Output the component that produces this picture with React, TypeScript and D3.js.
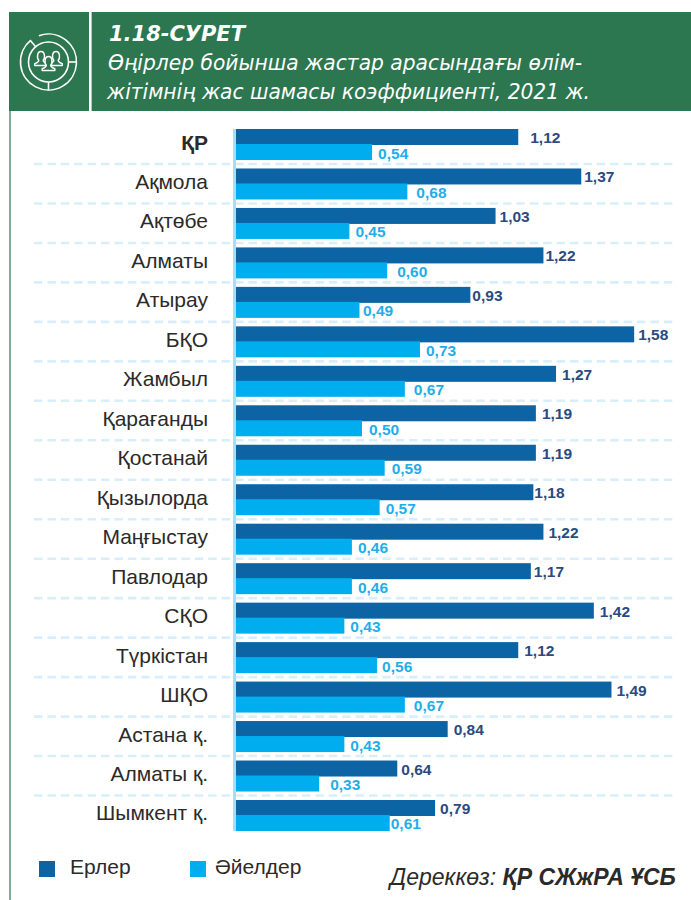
import React from "react";
import * as d3 from "d3";

const regions = ["ҚР","Ақмола","Ақтөбе","Алматы","Атырау","БҚО","Жамбыл","Қарағанды","Қостанай","Қызылорда","Маңғыстау","Павлодар","СҚО","Түркістан","ШҚО","Астана қ.","Алматы қ.","Шымкент қ."];
const men = [1.12,1.37,1.03,1.22,0.93,1.58,1.27,1.19,1.19,1.18,1.22,1.17,1.42,1.12,1.49,0.84,0.64,0.79];
const women = [0.54,0.68,0.45,0.60,0.49,0.73,0.67,0.50,0.59,0.57,0.46,0.46,0.43,0.56,0.67,0.43,0.33,0.61];
const seriesNames = ["Ерлер","Әйелдер"];
const titleLines = ["1.18-СУРЕТ","Өңірлер бойынша жастар арасындағы өлім-","жітімнің жас шамасы коэффициенті, 2021 ж."];

// layout only: gap between bar end and its label, as set in the reference
const menLabelGap = [12,3,4,2,2,4,6,6,6,1,5,3,6,6,5,6,4,5];
const womenLabelGap = [6,9,6,10,3.5,6,9,7,7,6,6,6,6,5,9,6,11,1];

const GREEN = "#2C7650", DARK = "#0C64A4", LIGHT = "#00AEEF";
const fmt = (v: number) => d3.format(".2f")(v).replace(".", ",");
const x = d3.scaleLinear().domain([0, 1]).range([236, 488]);
const step = 39.47;
const y = d3.scaleBand<string>().domain(regions.map((_, i) => String(i))).range([129, 129 + step * regions.length]).padding(0).align(0);

const polar = (r: number, deg: number) => [48.5 + r * Math.cos(deg * Math.PI / 180), 62 + r * Math.sin(deg * Math.PI / 180)];
const ring = (r: number, a0: number, a1: number) => d3.arc()({ innerRadius: r, outerRadius: r, startAngle: (a0 + 90) * Math.PI / 180, endAngle: (a1 + 90) * Math.PI / 180 }) as string;

const Person = ({ cx, cy, s }: { cx: number; cy: number; s: number }) => (
  <path
    transform={`translate(${cx},${cy}) scale(${s})`}
    d="M-2.5,4.5 C-4.5,3 -4.8,-5 0,-5 C4.8,-5 4.5,3 2.5,4.5 C2.2,6 2.8,6.8 7,8.5 L7,10.5 L-7,10.5 L-7,8.5 C-2.8,6.8 -2.2,6 -2.5,4.5 Z"
    fill={GREEN} stroke="#fff" strokeWidth={1.5 / s} strokeLinejoin="round"
  />
);

export default function App() {
  return (
    <svg width={691} height={900} style={{ position: "absolute", left: 0, top: 0, background: "#fff" }}>
      <rect x={9} y={110} width={2} height={790} fill="#7FAF99" />
      <rect x={9} y={12} width={682} height={99} fill={GREEN} />
      <rect x={89} y={12} width={2.6} height={99} fill="#fff" />
      <g fill="none" stroke="#fff" strokeWidth={1.6}>
        <path d={ring(28, -110, 231)} transform="translate(48.5,62)" />
        <circle cx={48.5} cy={62} r={20} />
        {[-130, 0, 90].map(a => {
          const [a1, b1] = polar(20, a), [a2, b2] = polar(28.5, a);
          return <line key={a} x1={a1} y1={b1} x2={a2} y2={b2} />;
        })}
      </g>
      <Person cx={41} cy={56} s={0.9} />
      <Person cx={56} cy={56} s={0.9} />
      <Person cx={48.5} cy={61} s={0.9} />

      <g fill="#fff" fontFamily="'DejaVu Sans'" fontStyle="italic">
        <text x={109} y={41} fontSize={22} fontWeight={700} textLength={136} lengthAdjust="spacingAndGlyphs">{titleLines[0]}</text>
        <text x={108} y={70} fontSize={21} textLength={474} lengthAdjust="spacingAndGlyphs">{titleLines[1]}</text>
        <text x={107} y={99} fontSize={21} textLength={483} lengthAdjust="spacingAndGlyphs">{titleLines[2]}</text>
      </g>

      {regions.slice(0, -1).map((_, i) => {
        const yy = y(String(i))! + 35;
        return <line key={i} x1={34} x2={674} y1={yy} y2={yy} stroke="#D8EFFB" strokeWidth={2.6} strokeDasharray="8.5 4.9" />;
      })}
      <rect x={233} y={129} width={3} height={702} fill="#A6DEF8" />

      <g fontFamily="'Liberation Sans'">
        {regions.map((r, i) => {
          const top = y(String(i))!;
          return (
            <g key={r}>
              <rect x={x(0)} y={top} width={x(men[i]) - x(0)} height={16} fill={DARK} />
              <rect x={x(0)} y={top + 15} width={x(women[i]) - x(0)} height={16} fill={LIGHT} />
              <text x={208} y={top + 20.5} textAnchor="end" fontSize={21} fontWeight={i === 0 ? 700 : 400} fill="#2B2A29">{r}</text>
              <text x={x(men[i]) + menLabelGap[i]} y={top + 14} fontSize={15.5} fontWeight={700} fill="#2A4A80">{fmt(men[i])}</text>
              <text x={x(women[i]) + womenLabelGap[i]} y={top + 29.5} fontSize={15.5} fontWeight={700} fill="#1FAEEA">{fmt(women[i])}</text>
            </g>
          );
        })}
        <rect x={39} y={861} width={16} height={16} fill={DARK} />
        <rect x={190} y={861} width={16} height={16} fill={LIGHT} />
        <text x={70} y={874} fontSize={21} fill="#2B2A29">{seriesNames[0]}</text>
        <text x={215} y={874} fontSize={21} fill="#2B2A29">{seriesNames[1]}</text>
        <text x={390} y={885} fontSize={23} fontStyle="italic" fill="#2B2A29">Дереккөз: <tspan fontWeight={700}>ҚР СЖжРА ҰСБ</tspan></text>
      </g>
    </svg>
  );
}
